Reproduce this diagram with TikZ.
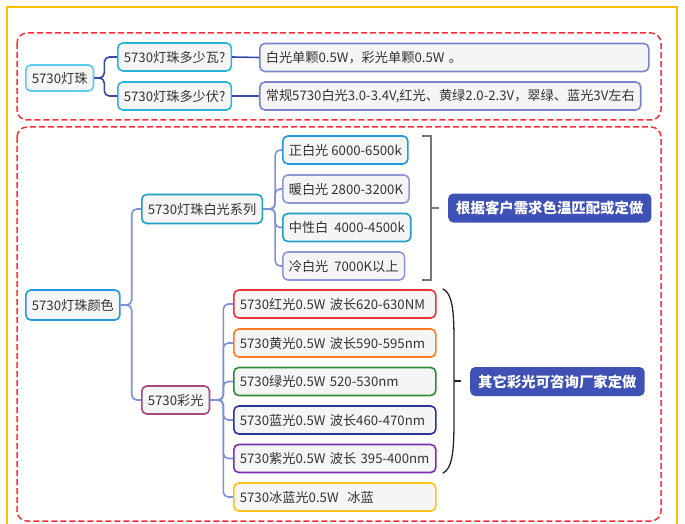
\documentclass[tikz,border=0pt]{standalone}
\usepackage{fontspec}
\setmainfont{Noto Sans CJK SC}
\definecolor{boxfill}{HTML}{F5F5F5}
\definecolor{txt}{HTML}{333333}
\definecolor{cyanL}{HTML}{5CCBF0}
\definecolor{cyanM}{HTML}{29B6D6}
\definecolor{peri}{HTML}{7A84CC}
\definecolor{topline}{HTML}{3949AB}
\definecolor{botline}{HTML}{8090D8}
\definecolor{rootblue}{HTML}{1E9BE0}
\definecolor{teal}{HTML}{1AA0C4}
\definecolor{lperi}{HTML}{8C96D8}
\definecolor{maroon}{HTML}{A8487E}
\definecolor{cred}{HTML}{E8353B}
\definecolor{corange}{HTML}{FF7D1F}
\definecolor{cgreen}{HTML}{2E8B34}
\definecolor{cnavy}{HTML}{283593}
\definecolor{cpurple}{HTML}{7B2FB0}
\definecolor{cyellow}{HTML}{FFC21A}
\definecolor{callfill}{HTML}{3F51B5}
\definecolor{dashred}{HTML}{FF2D3C}
\definecolor{frame}{HTML}{FFC000}
\definecolor{brk}{HTML}{777777}
\begin{document}
\begin{tikzpicture}[x=1pt,y=-1pt,
  box/.style={draw, rounded corners=5pt, fill=boxfill, line width=1.6pt, text=txt,
    font=\fontsize{13.2}{15}\selectfont, inner xsep=6pt, inner ysep=0pt,
    minimum height=28pt, anchor=west},
  kbox/.style={box, text width=190pt, align=left},
  callout/.style={fill=callfill, rounded corners=5pt, text=white,
    font=\fontsize{14.4}{15}\selectfont\bfseries, inner xsep=8pt, inner ysep=0pt,
    minimum height=29pt, anchor=west},
  reddash/.style={draw=dashred, dashed, dash pattern=on 6pt off 3pt, line width=1.5pt, rounded corners=10pt},
  tline/.style={draw=topline, line width=1.6pt, rounded corners=5pt},
  bline/.style={draw=botline, line width=1.6pt, rounded corners=5pt}]
\useasboundingbox (0,0) rectangle (685,524);
% frame
\draw[frame, line width=1.5pt] (7,530) -- (7,7) -- (677,7) -- (677,530);
% dashed groups
\draw[reddash] (17,33) rectangle (661,120);
\draw[reddash] (17,127) rectangle (661,521);

% top section
\node[box, draw=cyanL, minimum height=26pt] (r1) at (25,78) {5730灯珠};
\node[box, draw=cyanM] (q1) at (117,57) {5730灯珠多少瓦?};
\node[box, draw=cyanM] (q2) at (117,96) {5730灯珠多少伏?};
\node[box, draw=peri, text width=377pt, align=left] (a1) at (259,57.5) {白光单颗0.5W，彩光单颗0.5W 。};
\node[box, draw=peri] (a2) at (259,96) {常规5730白光3.0-3.4V,红光、黄绿2.0-2.3V，翠绿、蓝光3V左右};
\draw[tline] (r1.east) -- ++(10,0) |- (q1.west);
\draw[tline] (r1.east) -- ++(10,0) |- (q2.west);
\draw[tline] (q1.east) -- (a1.west);
\draw[tline] (q2.east) -- (a2.west);

% bottom section
\node[box, draw=rootblue, minimum height=30pt] (r2) at (25,305) {5730灯珠颜色};
\node[box, draw=teal, minimum height=29pt] (w) at (141,209) {5730灯珠白光系列};
\node[box, draw=maroon] (c) at (141,400) {5730彩光};
\node[box, draw=rootblue] (w1) at (282,150) {正白光 6000-6500k};
\node[box, draw=lperi] (w2) at (282,189) {暖白光 2800-3200K};
\node[box, draw=teal] (w3) at (282,227.5) {中性白\ \ 4000-4500k};
\node[box, draw=lperi] (w4) at (282,266) {冷白光\ \ 7000K以上};
\node[kbox, draw=cred] (k1) at (233,304) {\mbox{5730红光0.5W 波长620-630NM}};
\node[kbox, draw=corange] (k2) at (233,343) {\mbox{5730黄光0.5W 波长590-595nm}};
\node[kbox, draw=cgreen] (k3) at (233,381.5) {\mbox{5730绿光0.5W 520-530nm}};
\node[kbox, draw=cnavy] (k4) at (233,420) {\mbox{5730蓝光0.5W 波长460-470nm}};
\node[kbox, draw=cpurple] (k5) at (233,458.5) {\mbox{5730紫光0.5W 波长 395-400nm}};
\node[kbox, draw=cyellow] (k6) at (233,497) {\mbox{5730冰蓝光0.5W\ \ 冰蓝}};

\foreach \n in {w,c} \draw[bline] (r2.east) -- ++(11,0) |- (\n.west);
\foreach \n in {w1,w2,w3,w4} \draw[bline] (w.east) -- ++(12,0) |- (\n.west);
\foreach \n in {k1,k2,k3,k4,k5,k6} \draw[bline] (c.east) -- ++(13,0) |- (\n.west);

% callouts
\node[callout] (n1) at (448,208) {根据客户需求色温匹配或定做};
\node[callout] (n2) at (470,381.5) {其它彩光可咨询厂家定做};

% square bracket
\coordinate (bt) at (431,136);
\coordinate (bb) at (431,280);
\draw[brk, line width=1.2pt] ([xshift=-9pt]bt) -- (bt) -- (bb) -- ([xshift=-9pt]bb);
\draw[brk, line width=1.2pt] (431,208) -- (439,208);

% curly brace
\draw[black!85, line width=1.3pt, line cap=round]
  (443,289) .. controls (452,293) and (454,310) .. (454,340)
  -- (454,422) .. controls (454,452) and (452,469) .. (443,473);
\draw[black!85, line width=1.3pt] (454,381) -- (461,381);
\end{tikzpicture}
\end{document}
